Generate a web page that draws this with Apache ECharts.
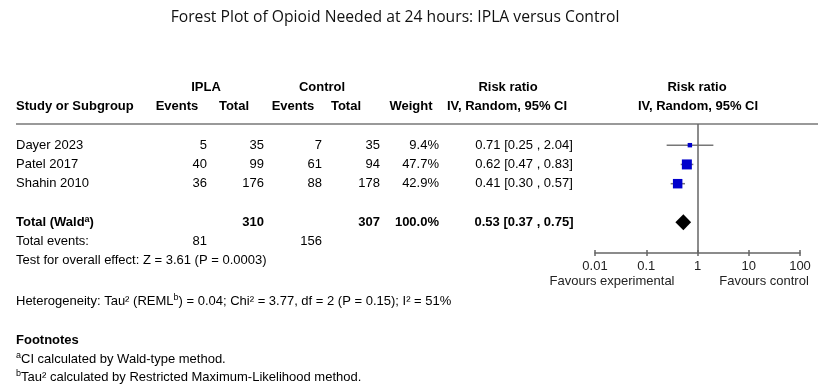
<!DOCTYPE html>
<html>
<head>
    <meta charset="utf-8">
    <title>Forest plot</title>
    <script src="https://cdn.jsdelivr.net/npm/echarts@6/dist/echarts.min.js"></script>
</head>
<body style="margin:0;background:#fff">
    <div id="main" style="width: 827px;height:392px;"></div>
    <script type="text/javascript">
// study data
var studies = ['Dayer 2023', 'Patel 2017', 'Shahin 2010'];
var iplaEvents = [5, 40, 36];
var iplaTotal = [35, 99, 176];
var ctrlEvents = [7, 61, 88];
var ctrlTotal = [35, 94, 178];
var weights = [9.4, 47.7, 42.9];
var rr = [0.71, 0.62, 0.41];
var rrLow = [0.25, 0.47, 0.30];
var rrHigh = [2.04, 0.83, 0.57];
// pooled result
var pooled = [0.53, 0.37, 0.75];
var pooledTotals = [310, 307];
var totalEvents = [81, 156];
var studyRows = [1, 2, 3];
var totalRow = 5;

var FONT = '"Liberation Sans", Arial, sans-serif';
var colX = [16, 207, 264, 322, 380, 439, 524];
var colAlign = ['left', 'right', 'right', 'right', 'right', 'right', 'center'];

function ciText(e, l, h) {
    return e.toFixed(2) + ' [' + l.toFixed(2) + ' , ' + h.toFixed(2) + ']';
}

// table rows
var tableRows = [];
for (var i = 0; i < studies.length; i++) {
    tableRows.push({
        row: studyRows[i], bold: false,
        cells: [studies[i], iplaEvents[i], iplaTotal[i], ctrlEvents[i], ctrlTotal[i],
            weights[i].toFixed(1) + '%', ciText(rr[i], rrLow[i], rrHigh[i])]
    });
}
tableRows.push({
    row: totalRow, bold: true,
    cells: ['{b|Total (Wald}{s|a}{b|)}', '', pooledTotals[0], '', pooledTotals[1], '100.0%',
        ciText(pooled[0], pooled[1], pooled[2])]
});
tableRows.push({ row: 6, bold: false, cells: ['Total events:', totalEvents[0], '', totalEvents[1], '', '', ''] });
tableRows.push({ row: 7, bold: false, cells: ['Test for overall effect: Z = 3.61 (P = 0.0003)', '', '', '', '', '', ''] });

var chart = echarts.init(document.getElementById('main'));

function headText(x, y, t, align) {
    return {
        type: 'text', x: x, y: y,
        style: { text: t, fill: '#000', fontFamily: FONT, fontSize: 13, fontWeight: 'bold',
            align: align || 'center', verticalAlign: 'middle' }
    };
}
function noteText(y, t, bold) {
    return {
        type: 'text', x: 16, y: y,
        style: {
            text: t, fill: '#000', fontFamily: FONT, fontSize: 13, fontWeight: bold ? 'bold' : 'normal',
            verticalAlign: 'middle',
            rich: {
                n: { fontFamily: FONT, fontSize: 13, fill: '#000' },
                s: { fontFamily: FONT, fontSize: 9, fill: '#000', padding: [0, 0, 6, 0] }
            }
        }
    };
}

chart.setOption({
    backgroundColor: '#fff',
    animation: false,
    grid: { left: 595, right: 27, top: 124, bottom: 139 },
    xAxis: [{
        type: 'log', logBase: 10, min: 0.01, max: 100, position: 'bottom',
        axisLine: { onZero: false, lineStyle: { color: '#666', width: 1.5 } },
        axisTick: { inside: false, length: 3, lineStyle: { color: '#666', width: 1.5 } },
        axisLabel: {
            margin: 7, color: '#222', fontFamily: FONT, fontSize: 13,
            formatter: function (v) { return String(+(+v).toPrecision(3)); }
        },
        splitLine: { show: false }
    }, {
        type: 'log', logBase: 10, min: 0.01, max: 100, position: 'bottom', offset: 0,
        axisLine: { show: false, onZero: false },
        axisTick: { inside: true, length: 3, lineStyle: { color: '#666', width: 1.5 } },
        axisLabel: { show: false },
        splitLine: { show: false }
    }],
    yAxis: {
        type: 'value', inverse: true, min: -0.1, max: 6.6,
        show: false
    },
    graphic: [
        { type: 'text', x: 395, y: 18,
          style: { text: 'Forest Plot of Opioid Needed at 24 hours: IPLA versus Control', fill: '#111',
            fontFamily: '"Open Sans", "Noto Sans", sans-serif', fontSize: 15.7, align: 'center', verticalAlign: 'middle' } },
        headText(206, 87, 'IPLA'),
        headText(322, 87, 'Control'),
        headText(508, 87, 'Risk ratio'),
        headText(697, 87, 'Risk ratio'),
        headText(16, 106, 'Study or Subgroup', 'left'),
        headText(177, 106, 'Events'),
        headText(234, 106, 'Total'),
        headText(293, 106, 'Events'),
        headText(346, 106, 'Total'),
        headText(411, 106, 'Weight'),
        headText(507, 106, 'IV, Random, 95% CI'),
        headText(698, 106, 'IV, Random, 95% CI'),
        { type: 'line', shape: { x1: 16, y1: 124, x2: 818, y2: 124 },
          style: { stroke: '#777', lineWidth: 1.5 } },
        { type: 'text', x: 612, y: 281,
          style: { text: 'Favours experimental', fill: '#222', fontFamily: FONT, fontSize: 13, align: 'center', verticalAlign: 'middle' } },
        { type: 'text', x: 764, y: 281,
          style: { text: 'Favours control', fill: '#222', fontFamily: FONT, fontSize: 13, align: 'center', verticalAlign: 'middle' } },
        noteText(301, 'Heterogeneity: Tau² (REML{s|b}) = 0.04; Chi² = 3.77, df = 2 (P = 0.15); I² = 51%'),
        noteText(340, 'Footnotes', true),
        noteText(359, '{s|a}{n|CI calculated by Wald-type method.}'),
        noteText(377, '{s|b}{n|Tau² calculated by Restricted Maximum-Likelihood method.}')
    ],
    series: [{
        type: 'custom',
        name: 'table',
        silent: true,
        data: tableRows.map(function (r) { return [1, r.row]; }),
        renderItem: function (params, api) {
            var r = tableRows[params.dataIndex];
            var y = api.coord([1, api.value(1)])[1];
            var children = [];
            r.cells.forEach(function (c, k) {
                if (c === '') return;
                children.push({
                    type: 'text', x: colX[k], y: y,
                    style: {
                        text: String(c), fill: '#000', fontFamily: FONT, fontSize: 13,
                        fontWeight: r.bold ? 'bold' : 'normal',
                        align: colAlign[k], verticalAlign: 'middle',
                        rich: {
                            b: { fontFamily: FONT, fontSize: 13, fontWeight: 'bold', fill: '#000' },
                            s: { fontFamily: FONT, fontSize: 9, fontWeight: 'bold', fill: '#000', padding: [0, 0, 6, 0] }
                        }
                    }
                });
            });
            return { type: 'group', children: children };
        }
    }, {
        type: 'custom',
        name: 'studies',
        silent: true,
        data: rr.map(function (v, i) { return [v, studyRows[i], rrLow[i], rrHigh[i], weights[i]]; }),
        renderItem: function (params, api) {
            var p = api.coord([api.value(0), api.value(1)]);
            var lo = api.coord([api.value(2), api.value(1)]);
            var hi = api.coord([api.value(3), api.value(1)]);
            var s = 10 * Math.sqrt(api.value(4) / 47.7);
            return {
                type: 'group',
                children: [{
                    type: 'line', shape: { x1: lo[0], y1: lo[1], x2: hi[0], y2: hi[1] },
                    style: { stroke: '#777', lineWidth: 1.5 }
                }, {
                    type: 'rect', shape: { x: p[0] - s / 2, y: p[1] - s / 2, width: s, height: s },
                    style: { fill: '#0000cc' }
                }]
            };
        },
        markLine: {
            silent: true, symbol: 'none', label: { show: false },
            lineStyle: { color: '#666', width: 1.5, type: 'solid' },
            data: [{ xAxis: 1 }]
        }
    }, {
        type: 'custom',
        name: 'pooled',
        silent: true,
        data: [[pooled[0], totalRow, pooled[1], pooled[2]]],
        renderItem: function (params, api) {
            var p = api.coord([api.value(0), api.value(1)]);
            var lo = api.coord([api.value(2), api.value(1)]);
            var hi = api.coord([api.value(3), api.value(1)]);
            return {
                type: 'polygon',
                shape: { points: [[lo[0], p[1]], [p[0], p[1] - 8], [hi[0], p[1]], [p[0], p[1] + 8]] },
                style: { fill: '#000' }
            };
        }
    }]
});
    </script>
</body>
</html>
